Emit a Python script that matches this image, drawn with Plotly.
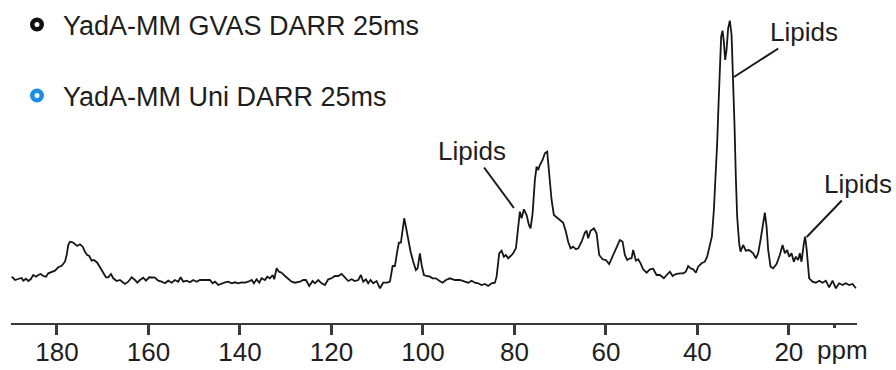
import plotly.graph_objects as go

# Chemical shift (ppm) and intensity (a.u.)
ppm = [
    189.90, 189.18, 188.46, 187.72, 187.37, 186.78, 186.27, 185.75, 185.18, 184.59,
    184.09, 183.56, 182.99, 182.40, 181.90, 181.16, 180.44, 179.72, 178.97, 178.25,
    177.88, 177.53, 177.16, 176.57, 176.07, 175.56, 174.97, 174.38, 173.88, 173.38,
    172.94, 172.42, 171.91, 171.19, 170.60, 169.88, 169.29, 168.79, 168.20, 167.69,
    166.95, 166.23, 165.14, 164.42, 163.67, 162.95, 162.45, 161.86, 161.14, 160.55,
    159.83, 158.58, 157.86, 157.12, 156.39, 155.67, 154.93, 154.21, 153.49, 152.96,
    152.39, 151.65, 150.93, 150.21, 149.46, 148.74, 147.65, 146.56, 145.97, 145.46,
    144.74, 144.00, 143.28, 142.56, 141.81, 141.09, 140.37, 139.63, 138.91, 138.19,
    137.44, 136.94, 136.35, 135.78, 135.26, 134.54, 134.03, 133.44, 132.85, 132.50,
    131.98, 131.48, 130.89, 130.16, 129.44, 128.70, 127.98, 127.26, 126.89, 126.16,
    125.57, 124.85, 124.11, 123.61, 122.88, 122.14, 121.42, 120.70, 119.96, 119.24,
    118.51, 117.77, 117.05, 116.33, 115.58, 114.86, 114.14, 113.55, 113.05, 112.46,
    111.96, 111.43, 110.86, 110.12, 109.40, 108.68, 107.80, 107.21, 106.62, 106.12,
    105.62, 105.25, 104.81, 104.44, 104.09, 103.72, 103.21, 102.69, 102.12, 101.53,
    101.16, 100.66, 100.28, 99.78, 99.19, 98.47, 97.88, 97.16, 96.44, 95.69,
    94.97, 94.10, 93.01, 91.91, 90.82, 90.10, 89.36, 88.63, 87.91, 87.17,
    86.45, 85.73, 84.98, 84.26, 83.89, 83.32, 82.80, 82.30, 81.86, 81.36,
    80.83, 80.26, 79.67, 79.17, 78.80, 78.43, 77.92, 77.33, 76.83, 76.46,
    76.02, 75.52, 75.15, 74.80, 74.43, 73.84, 73.33, 72.83, 72.39, 71.87,
    71.37, 70.78, 70.06, 69.33, 68.74, 68.24, 67.72, 67.15, 66.56, 66.05,
    65.31, 64.59, 64.22, 63.87, 63.34, 62.62, 62.03, 61.46, 60.72, 60.00,
    59.28, 58.40, 57.66, 56.94, 56.35, 55.85, 55.34, 54.75, 54.39, 54.03,
    53.44, 52.94, 52.42, 51.85, 51.10, 50.38, 49.66, 48.92, 48.20, 47.32,
    46.73, 46.01, 45.42, 44.70, 43.83, 43.10, 42.51, 42.01, 41.49, 40.92,
    40.33, 39.83, 39.08, 38.36, 37.86, 37.27, 36.83, 36.39, 35.95, 35.67,
    35.36, 35.08, 34.80, 34.49, 34.21, 33.92, 33.62, 33.27, 32.90, 32.52,
    32.18, 31.87, 31.59, 31.30, 30.86, 30.56, 29.99, 29.40, 28.68, 27.80,
    27.21, 26.71, 26.19, 25.75, 25.25, 24.87, 24.52, 24.00, 23.43, 22.69,
    21.97, 21.38, 20.87, 20.37, 19.93, 19.41, 18.91, 18.47, 17.96, 17.60,
    17.23, 16.72, 16.44, 16.13, 15.85, 15.56, 14.82, 14.10, 13.37, 12.63,
    11.91, 11.19, 10.45, 9.73, 9.00, 8.26, 7.53, 6.81, 6.07, 5.35,
]

intensity = [
    46.3, 43.0, 44.0, 45.0, 42.3, 44.3, 42.0, 43.7, 48.0, 46.3,
    48.0, 49.0, 47.0, 46.3, 49.7, 51.3, 52.3, 55.7, 57.3, 61.3,
    68.0, 78.0, 81.3, 80.7, 79.0, 77.0, 78.7, 76.3, 71.3, 68.0,
    67.0, 62.3, 63.0, 60.3, 55.7, 49.7, 45.7, 45.7, 49.0, 44.7,
    42.0, 43.0, 39.0, 41.3, 45.7, 43.0, 40.3, 43.0, 45.3, 42.3,
    45.7, 45.3, 42.3, 41.3, 39.7, 42.3, 40.3, 43.0, 41.3, 45.7,
    41.3, 42.3, 40.7, 43.0, 41.3, 43.0, 43.0, 43.0, 39.7, 41.3,
    38.0, 39.7, 40.7, 41.3, 39.7, 40.7, 39.7, 40.7, 40.3, 41.3,
    43.0, 39.7, 43.7, 40.3, 44.7, 43.0, 46.3, 44.7, 48.0, 43.7,
    54.7, 51.3, 50.3, 47.0, 43.7, 41.3, 40.3, 40.7, 41.3, 43.0,
    43.0, 37.0, 42.0, 39.7, 43.0, 39.7, 38.0, 43.7, 44.7, 47.0,
    47.0, 49.0, 45.7, 42.0, 43.7, 42.0, 43.0, 48.0, 41.3, 43.7,
    39.7, 43.0, 39.7, 42.0, 34.7, 40.3, 40.3, 41.3, 57.0, 57.0,
    71.3, 80.3, 80.3, 93.0, 104.7, 96.3, 83.0, 71.3, 61.3, 53.0,
    54.7, 69.7, 58.0, 48.0, 47.0, 46.3, 44.7, 44.7, 42.3, 40.3,
    43.0, 44.7, 43.0, 43.0, 41.3, 40.3, 42.3, 40.3, 39.7, 38.0,
    39.0, 37.0, 39.7, 40.3, 46.3, 69.7, 72.3, 66.3, 68.0, 64.7,
    67.0, 69.7, 74.7, 96.3, 111.3, 104.7, 113.7, 108.0, 98.0, 94.7,
    109.7, 143.0, 156.3, 153.0, 158.0, 163.0, 169.7, 171.3, 149.7, 123.0,
    108.0, 105.7, 103.7, 100.3, 91.3, 81.3, 74.7, 76.3, 73.7, 74.7,
    81.3, 90.3, 92.3, 84.7, 92.3, 94.7, 89.7, 68.0, 63.7, 63.0,
    59.0, 68.0, 76.3, 83.0, 81.3, 68.0, 63.0, 64.7, 64.7, 73.0,
    62.3, 63.7, 59.7, 53.7, 50.3, 53.7, 54.3, 48.0, 48.0, 44.7,
    48.0, 51.3, 47.0, 49.0, 49.7, 49.7, 51.3, 57.0, 54.7, 53.7,
    50.3, 56.3, 59.7, 61.3, 66.3, 76.3, 86.3, 113.0, 146.3, 179.7,
    219.7, 263.0, 286.3, 292.3, 281.3, 263.0, 273.0, 294.7, 302.3, 288.0,
    246.3, 196.3, 146.3, 106.3, 79.7, 71.3, 78.0, 72.3, 73.0, 69.7,
    64.7, 69.7, 83.0, 96.3, 110.3, 96.3, 73.0, 56.3, 54.7, 59.0,
    68.0, 78.0, 69.7, 73.0, 66.3, 69.7, 61.3, 66.3, 63.0, 69.7,
    61.3, 79.7, 86.3, 74.7, 56.3, 44.7, 41.3, 40.3, 42.3, 40.3,
    42.3, 35.7, 42.3, 34.7, 39.7, 38.0, 39.7, 38.0, 39.0, 34.7,
]

tick_values = [180, 160, 140, 120, 100, 80, 60, 40, 20]
tick_labels = ["180", "160", "140", "120", "100", "80", "60", "40", "20"]
series_names = ["YadA-MM GVAS DARR 25ms", "YadA-MM Uni DARR 25ms"]
series_colors = ["#111111", "#1a8fe3"]

# Annotated lipid peaks: (ppm, intensity) the leader line points to
lipid_ppm = [80.1, 32.0, 16.1]
lipid_int = [115, 246, 86]
lipid_offsets = [(-42, -57), (70, -45), (51, -53)]

FONT = "Liberation Sans, Arial, sans-serif"
TEXT = "#1e1e1e"

fig = go.Figure()
fig.add_trace(go.Scatter(
    x=ppm, y=intensity, mode="lines",
    line=dict(color="#161616", width=1.8),
    showlegend=False, hoverinfo="skip",
))
for i, (name, col) in enumerate(zip(series_names, series_colors)):
    fig.add_trace(go.Scatter(
        x=[None], y=[None], mode="markers", name=name,
        marker=dict(symbol="circle-open", size=9.5, color=col, line=dict(width=4.5, color=col)),
        legend="legend" if i == 0 else "legend2",
    ))

for (px, py), (ax, ay) in zip(zip(lipid_ppm, lipid_int), lipid_offsets):
    fig.add_annotation(
        x=px, y=py, xref="x", yref="y", text="Lipids",
        showarrow=True, arrowhead=0, arrowwidth=2, arrowcolor="#1a1a1a",
        ax=ax, ay=ay, font=dict(family=FONT, size=26, color=TEXT),
    )

fig.add_annotation(
    x=(842 - 11) / 846, y=(323 - 350) / 323, xref="paper", yref="paper",
    text="ppm", showarrow=False, xanchor="center", yanchor="middle",
    font=dict(family=FONT, size=26, color=TEXT),
)

legend_common = dict(
    xref="paper", yref="paper", xanchor="left", yanchor="middle",
    font=dict(family=FONT, size=27, color=TEXT), bgcolor="rgba(0,0,0,0)",
    itemwidth=42, borderwidth=0,
)
fig.update_layout(
    width=896, height=370,
    margin=dict(l=11, r=39, t=0, b=47, autoexpand=False),
    paper_bgcolor="white", plot_bgcolor="white",
    legend=dict(x=0, y=(323 - 25) / 323, **legend_common),
    legend2=dict(x=0, y=(323 - 96) / 323, **legend_common),
    xaxis=dict(
        range=[190.05, 5.1], showgrid=False, zeroline=False,
        showline=True, linecolor="#3a3a3a", linewidth=2,
        ticks="outside", ticklen=10, tickwidth=2.5, tickcolor="#3a3a3a",
        tickmode="array", tickvals=tick_values, ticktext=tick_labels,
        tickfont=dict(family=FONT, size=26, color=TEXT),
        ticklabelstandoff=-5,
        minor=dict(tickmode="array", tickvals=[10], ticks="outside", ticklen=3,
                   tickwidth=2.5, tickcolor="#3a3a3a", showgrid=False),
    ),
    yaxis=dict(range=[0, 323], visible=False, showgrid=False, zeroline=False),
)

fig.write_html("out.html")
